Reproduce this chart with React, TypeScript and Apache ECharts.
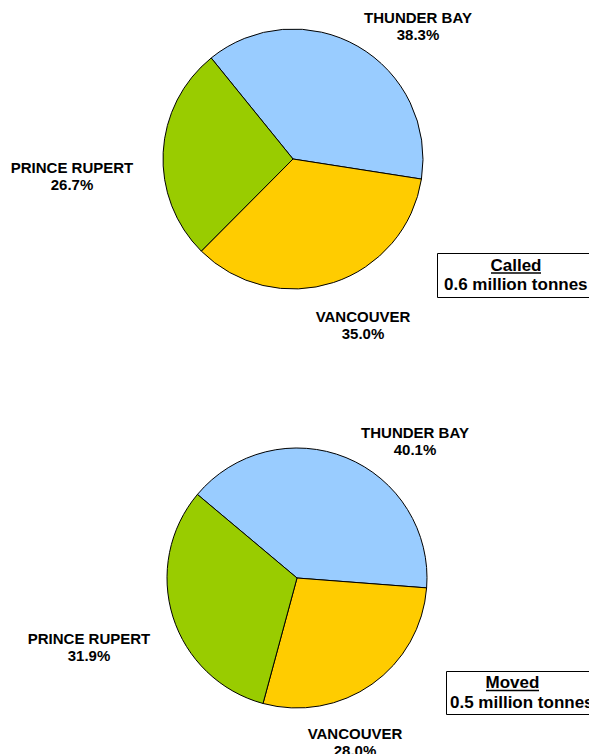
import React, { useEffect, useRef } from "react";
import * as echarts from "echarts";

const ports = ["THUNDER BAY", "VANCOUVER", "PRINCE RUPERT"];
const calledShares = [38.3, 35.0, 26.7];
const movedShares = [40.1, 28.0, 31.9];
const sliceColors = ["#99CCFF", "#FFCC00", "#99CC00"];
const boxTitles = ["Called", "Moved"];
const boxTotals = ["0.6 million tonnes", "0.5 million tonnes"];

const FONT = "Liberation Sans, Arial, sans-serif";

export default function App() {
  const ref = useRef<HTMLDivElement>(null);

  useEffect(() => {
    document.body.style.margin = "0";
    const chart = echarts.init(ref.current!, null, { renderer: "svg" });

    const pies = [
      { shares: calledShares, center: [293, 159], start: 129 },
      { shares: movedShares, center: [297, 578], start: 140 },
    ];
    // label block centres [pie][slice]
    const labelPos = [
      [[418, 26], [363, 325], [72, 176]],
      [[415, 441], [355, 742], [89, 647]],
    ];
    const boxes = [
      { x: 437, y: 253, h: 44, titleX: 516, titleY: 265.5, ulY: 273, lineX: 444, lineY: 284 },
      { x: 446, y: 671, h: 43, titleX: 512.5, titleY: 682.5, ulY: 690.5, lineX: 450, lineY: 702 },
    ];

    const graphics: any[] = [];
    pies.forEach((p, pi) => {
      p.shares.forEach((v, i) => {
        const [x, y] = labelPos[pi][i];
        graphics.push({
          type: "text",
          x,
          y,
          style: {
            text: `${ports[i]}\n${v.toFixed(1)}%`,
            font: `bold 15px ${FONT}`,
            fill: "#000",
            align: "center",
            verticalAlign: "middle",
            lineHeight: 17,
          },
        });
      });
    });
    boxes.forEach((b, bi) => {
      graphics.push({
        type: "rect",
        shape: { x: b.x + 0.5, y: b.y + 0.5, width: 170, height: b.h },
        style: { fill: "#fff", stroke: "#000", lineWidth: 1 },
      });
      graphics.push({
        type: "text",
        x: b.titleX,
        y: b.titleY,
        style: {
          text: boxTitles[bi],
          font: `bold 17px ${FONT}`,
          fill: "#000",
          align: "center",
          verticalAlign: "middle",
        },
      });
      const tw = bi === 0 ? 50 : 53;
      graphics.push({
        type: "line",
        shape: { x1: b.titleX - tw / 2, y1: b.ulY, x2: b.titleX + tw / 2, y2: b.ulY },
        style: { stroke: "#000", lineWidth: 1.5 },
      });
      graphics.push({
        type: "text",
        x: b.lineX,
        y: b.lineY,
        style: {
          text: boxTotals[bi],
          font: `bold 17px ${FONT}`,
          fill: "#000",
          align: "left",
          verticalAlign: "middle",
        },
      });
    });

    chart.setOption({
      animation: false,
      backgroundColor: "#fff",
      series: pies.map((p) => ({
        type: "pie",
        center: p.center,
        radius: [0, 130],
        startAngle: p.start,
        clockwise: true,
        label: { show: false },
        labelLine: { show: false },
        emphasis: { disabled: true },
        itemStyle: { borderColor: "#000", borderWidth: 1 },
        data: p.shares.map((v, i) => ({
          name: ports[i],
          value: v,
          itemStyle: { color: sliceColors[i] },
        })),
      })),
      graphic: graphics,
    });

    return () => chart.dispose();
  }, []);

  return (
    <div
      ref={ref}
      style={{ position: "absolute", left: 0, top: 0, width: 589, height: 754 }}
    />
  );
}
